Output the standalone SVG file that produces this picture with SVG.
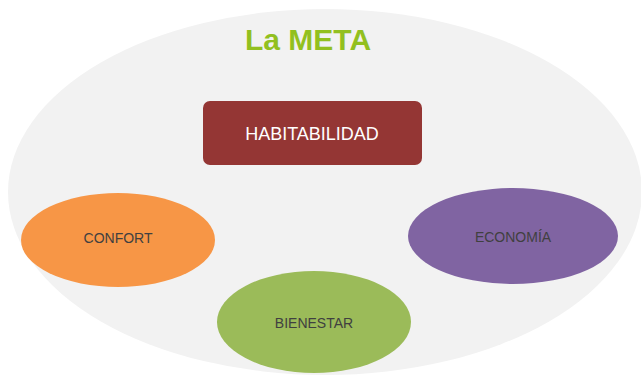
<svg xmlns="http://www.w3.org/2000/svg" width="641" height="377" viewBox="0 0 641 377">
<style>
.lbl{font-family:"Liberation Sans",Arial,sans-serif;font-size:14px;fill:#404040;text-anchor:middle}
</style>
<rect width="641" height="377" fill="#ffffff"/>
<ellipse cx="325" cy="192" rx="317" ry="183" fill="#f2f2f2"/>
<text x="308" y="50" font-family="Liberation Sans,Arial,sans-serif" font-size="30" font-weight="bold" fill="#92c01f" text-anchor="middle">La META</text>
<g id="habitabilidad">
<rect x="203" y="101" width="219" height="64" rx="7" fill="#943634"/>
<text x="312" y="140" font-family="Liberation Sans,Arial,sans-serif" font-size="18" fill="#ffffff" text-anchor="middle">HABITABILIDAD</text>
</g>
<g id="confort">
<ellipse cx="118" cy="240" rx="97" ry="47" fill="#f79646"/>
<text class="lbl" x="118" y="243">CONFORT</text>
</g>
<g id="economia">
<ellipse cx="513" cy="236" rx="105" ry="48" fill="#8064a2"/>
<text class="lbl" x="513" y="242">ECONOMÍA</text>
</g>
<g id="bienestar">
<ellipse cx="314" cy="322" rx="97" ry="51" fill="#9bbb59"/>
<text class="lbl" x="314" y="328">BIENESTAR</text>
</g>
<g id="connectors"></g>
</svg>
